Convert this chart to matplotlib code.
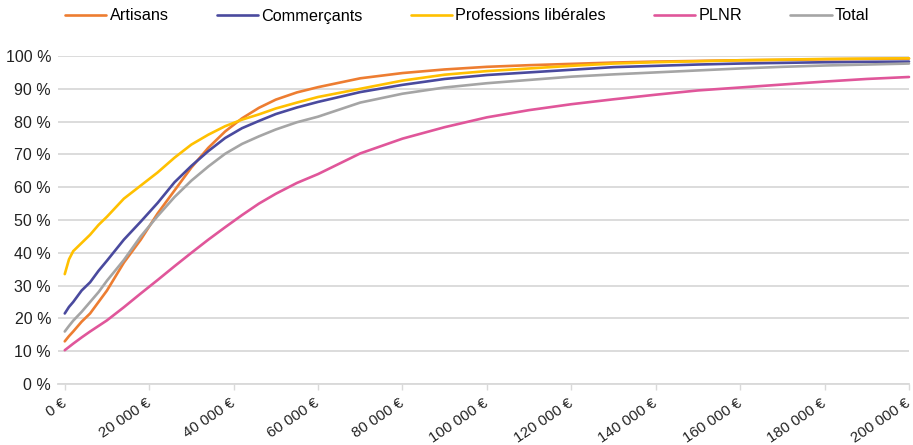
import matplotlib
matplotlib.use("Agg")
import matplotlib.pyplot as plt
from matplotlib.ticker import FuncFormatter, MultipleLocator

plt.rcParams['font.family'] = ['Liberation Sans', 'DejaVu Sans']

# Revenue thresholds (thousands of euros)
revenu_k = [0, 1, 2, 4, 6, 8, 10, 14, 18, 22, 26, 30, 34, 38, 42, 46, 50, 55, 60,
            70, 80, 90, 100, 110, 120, 130, 140, 150, 160, 170, 180, 190, 200]

# Cumulative share of self-employed (%) below each threshold
artisans = [13.0, 14.6, 16.0, 19.0, 21.5, 25.0, 28.5, 37.0, 44.0, 52.0, 59.0, 66.0, 72.0,
            77.0, 81.0, 84.2, 86.7, 88.9, 90.5, 93.2, 94.8, 95.9, 96.7, 97.2, 97.6, 98.0,
            98.3, 98.5, 98.7, 98.8, 99.0, 99.1, 99.2]
commercants = [21.5, 23.5, 25.0, 28.5, 31.0, 34.5, 37.6, 44.0, 49.5, 55.2, 61.5, 66.5, 71.0,
               75.0, 78.0, 80.2, 82.3, 84.3, 86.0, 89.0, 91.2, 93.0, 94.2, 95.0, 95.8, 96.6,
               97.0, 97.4, 97.7, 97.9, 98.1, 98.2, 98.3]
liberales = [33.5, 38.0, 40.5, 43.0, 45.5, 48.5, 51.0, 56.5, 60.5, 64.5, 69.0, 73.0, 76.0,
             78.6, 80.6, 82.2, 84.0, 85.8, 87.5, 90.0, 92.5, 94.3, 95.4, 96.2, 97.0, 97.7,
             98.1, 98.4, 98.7, 98.9, 99.1, 99.2, 99.3]
plnr = [10.3, 11.3, 12.3, 14.2, 16.0, 17.7, 19.4, 23.4, 27.6, 31.7, 35.9, 40.0, 44.0,
        47.8, 51.5, 55.0, 58.0, 61.3, 64.0, 70.3, 74.8, 78.3, 81.3, 83.5, 85.3, 86.8,
        88.2, 89.5, 90.4, 91.3, 92.2, 93.0, 93.6]
total = [16.0, 17.7, 19.3, 22.0, 25.0, 28.0, 31.5, 37.8, 45.0, 51.2, 57.0, 62.0, 66.3,
         70.2, 73.2, 75.5, 77.6, 79.8, 81.5, 85.8, 88.5, 90.4, 91.7, 92.7, 93.7, 94.4,
         95.0, 95.6, 96.2, 96.7, 97.1, 97.4, 97.7]

series = [
    ("Artisans", artisans, "#ED7D31"),
    ("Commerçants", commercants, "#4A4A9E"),
    ("Professions libérales", liberales, "#FFC000"),
    ("PLNR", plnr, "#E0569A"),
    ("Total", total, "#A5A5A5"),
]

x = [v * 1000 for v in revenu_k]

fig = plt.figure(figsize=(9.13, 4.45), dpi=100)
ax = fig.add_axes([58 / 913, 1 - 384 / 445, (909 - 58) / 913, (384 - 56) / 445])

handles = []
for name, vals, col in series:
    h, = ax.plot(x, vals, color=col, lw=1.9, label=name, clip_on=False,
                 solid_capstyle='round')
    handles.append(h)

ax.set_xlim(-1600, 200000)
ax.set_ylim(0, 100)
ax.yaxis.set_major_locator(MultipleLocator(10))
ax.xaxis.set_major_locator(MultipleLocator(20000))
ax.yaxis.set_major_formatter(FuncFormatter(lambda v, p: f"{int(round(v))} %"))
ax.xaxis.set_major_formatter(
    FuncFormatter(lambda v, p: f"{int(round(v)):,} €".replace(",", " ")))

ax.grid(axis='y', color='#D9D9D9', lw=1.3)
ax.set_axisbelow(True)
for s in ('top', 'right', 'left'):
    ax.spines[s].set_visible(False)
ax.spines['bottom'].set_color('#D9D9D9')
ax.spines['bottom'].set_linewidth(1.3)

ax.tick_params(axis='y', length=0, pad=5, labelsize=11.5, labelcolor='#222222')
ax.tick_params(axis='x', length=4, width=1.0, color='#D9D9D9', pad=9,
               labelsize=10.8, labelcolor='#222222')
for lbl in ax.get_xticklabels():
    lbl.set_rotation(34)
    lbl.set_ha('right')
    lbl.set_va('center')
    lbl.set_rotation_mode('anchor')

fig.legend(handles=handles, loc='center left', bbox_to_anchor=(65 / 913, 1 - 16 / 445),
           ncol=5, frameon=False, fontsize=11.7, handlelength=2.55, handletextpad=0.2,
           columnspacing=2.95, borderpad=0, borderaxespad=0)

fig.savefig("out.png", dpi=100)
